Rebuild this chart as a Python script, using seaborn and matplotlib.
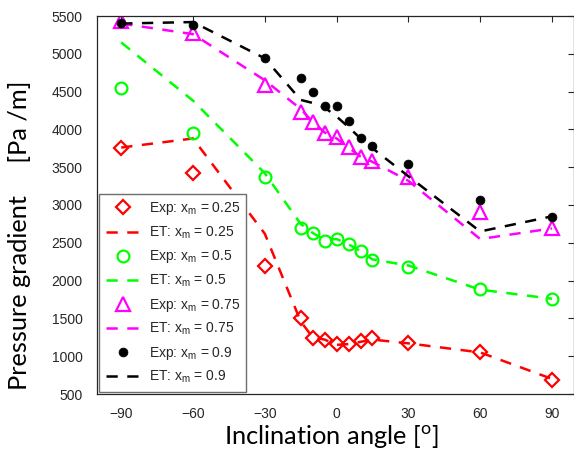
import matplotlib
matplotlib.use("Agg")
import matplotlib.pyplot as plt
import numpy as np
import pandas as pd
import seaborn as sns

# Inclination angles (degrees)
angles = [-90, -60, -30, -15, -10, -5, 0, 5, 10, 15, 30, 60, 90]

# Experimental pressure gradients [Pa/m] for each mass quality
exp_025 = [3757, 3427, 2193, 1501, 1236, 1214, 1157, 1157, 1201, 1236, 1170, 1060, 685]
exp_050 = [4544, 3948, 3374, 2692, 2626, 2528, 2546, 2480, 2396, 2272, 2183, 1893, 1757]
exp_075 = [5437, 5271, 4587, 4234, 4102, 3956, 3895, 3762, 3639, 3582, 3374, 2903, 2700]
exp_090 = [5403, 5381, 4940, 4684, 4491, 4310, 4310, 4115, 3882, 3784, 3542, 3066, 2845]

# ET model predictions [Pa/m]
et_025 = [3760, 3880, 2620, 1460, 1250, 1220, 1150, 1160, 1190, 1220, 1170, 1050, 700]
et_050 = [5150, 4380, 3420, 2750, 2630, 2540, 2550, 2480, 2390, 2280, 2200, 1880, 1760]
et_075 = [5400, 5260, 4650, 4270, 4100, 3960, 3880, 3760, 3640, 3570, 3320, 2550, 2690]
et_090 = [5400, 5420, 4940, 4390, 4350, 4290, 4170, 4030, 3880, 3750, 3380, 2650, 2850]

qualities = ["0.25", "0.5", "0.75", "0.9"]
exp_series = [exp_025, exp_050, exp_075, exp_090]
et_series = [et_025, et_050, et_075, et_090]
colors = ["#FF0000", "#00FF00", "#FF00FF", "#000000"]
markers = ["D", "o", "^", "o"]
msizes = [6.8, 8.5, 9.5, 6.4]
filled = [False, False, False, True]

sns.set_theme(style="white")
plt.rcParams["font.family"] = ["Liberation Sans", "DejaVu Sans"]
plt.rcParams["mathtext.fontset"] = "custom"
plt.rcParams["mathtext.rm"] = "Liberation Sans"

fig = plt.figure(figsize=(5.74, 4.51), dpi=100)
ax = fig.add_axes([97.3 / 574, 1 - 394 / 451, (573.5 - 97.3) / 574, (394 - 16) / 451])

handles = []
for q, ev, tv, c, m, ms, f in zip(qualities, exp_series, et_series, colors, markers, msizes, filled):
    df_exp = pd.DataFrame({"angle": angles, "dp": ev})
    df_et = pd.DataFrame({"angle": angles, "dp": tv})
    sns.lineplot(data=df_exp, x="angle", y="dp", ax=ax, estimator=None, sort=False,
                 linestyle="none", marker=m, markersize=ms,
                 markerfacecolor=(c if f else "none"), markeredgecolor=c,
                 markeredgewidth=(0.5 if f else 1.6), color=c,
                 label=f"Exp: x$_\\mathregular{{m}}$ = {q}")
    hexp = ax.lines[-1]
    sns.lineplot(data=df_et, x="angle", y="dp", ax=ax, estimator=None, sort=False,
                 color=c, linewidth=1.8, dashes=False,
                 label=f"ET: x$_\\mathregular{{m}}$ = {q}")
    het = ax.lines[-1]
    het.set_dashes((4.5, 3.8))
    handles += [hexp, het]

ax.set_xlim(-100, 99)
ax.set_ylim(500, 5500)
ax.set_xticks([-90, -60, -30, 0, 30, 60, 90])
ax.set_yticks(np.arange(500, 5501, 500))
ax.tick_params(direction="in", length=4.5, width=0.8, colors="#262626",
               labelsize=10, top=True, right=True, labeltop=False, labelright=False)
ax.tick_params(axis="y", pad=10.5)
ax.tick_params(axis="x", pad=9)
for s in ax.spines.values():
    s.set_color("#262626")
    s.set_linewidth(0.9)

lab_font = dict(family=["Lato", "DejaVu Sans"], size=18.3, color="black")
ax.set_xlabel("Inclination angle [$^\\mathregular{o}$]", **lab_font)
ax.set_ylabel("Pressure gradient     [Pa /m]", **lab_font)
ax.xaxis.set_label_coords((331.5 - 97.3) / 476.2, (394 - 437) / 378)
ax.yaxis.set_label_coords((20 - 97.3) / 476.2, (394 - 235.5) / 378)
ax.xaxis.label.set_va("center")
ax.yaxis.label.set_va("center")

leg = ax.legend(handles=handles, labels=[h.get_label() for h in handles],
                loc="lower left", bbox_to_anchor=(2 / 476.2, 2.3 / 378),
                borderaxespad=0, fontsize=10, frameon=True, fancybox=False,
                handlelength=2.5, handletextpad=0.6, labelspacing=0.53,
                borderpad=0.45, framealpha=1)
leg.get_frame().set_edgecolor("#6e6e6e")
leg.get_frame().set_linewidth(1.0)

fig.savefig("out.png", dpi=100, facecolor="white")
